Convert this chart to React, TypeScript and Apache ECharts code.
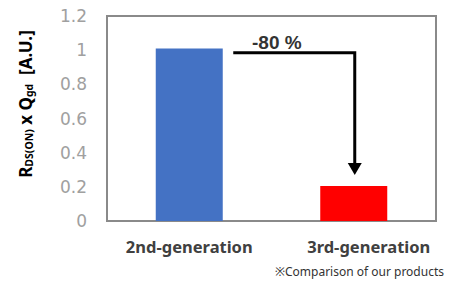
import React, { useEffect, useRef } from "react";
import * as echarts from "echarts";

const categories = ["2nd-generation", "3rd-generation"];
const values = [1.01, 0.205];
const barColors = ["#4472C4", "#FF0000"];
const yTicks = [0, 0.2, 0.4, 0.6, 0.8, 1, 1.2];
const reductionLabel = "-80 %";
const arrowStartValue = 0.985;
const arrowTipValue = 0.27;
const footnote = "※Comparison of our products";
const yName = "{b|R}{s|DS(ON)}{b| x Q}{s|gd}{b|  [A.U.]}";

export default function App() {
  const ref = useRef<HTMLDivElement>(null);
  useEffect(() => {
    if (!ref.current) return;
    const chart = echarts.init(ref.current, null, { renderer: "svg" });
    chart.setOption({
      animation: false,
      grid: {
        left: 107,
        top: 16,
        right: 19,
        bottom: 62,
        show: true,
        borderColor: "#8a8a8a",
        borderWidth: 2,
        backgroundColor: "#fff",
      },
      xAxis: {
        type: "category",
        data: categories,
        axisLine: { lineStyle: { color: "#8a8a8a", width: 2 } },
        axisTick: { show: false },
        axisLabel: {
          margin: 17,
          formatter: (v: string, i: number) => (i === 1 ? `{r|${v}}` : `{l|${v}}`),
          rich: {
            l: { fontFamily: "Noto Sans", fontWeight: "bold", fontSize: 16.5, color: "#404040" },
            r: {
              fontFamily: "Noto Sans",
              fontWeight: "bold",
              fontSize: 16.5,
              color: "#404040",
              padding: [0, 0, 0, 30],
            },
          },
        },
      },
      yAxis: {
        type: "value",
        min: 0,
        max: yTicks[yTicks.length - 1],
        interval: 0.2,
        axisLine: { show: false },
        axisTick: { show: false },
        splitLine: { show: false },
        axisLabel: {
          margin: 20,
          color: "#a0a0a0",
          fontFamily: "DejaVu Sans",
          fontSize: 17,
          formatter: (v: number) => String(Math.round(v * 10) / 10),
        },
      },
      series: [
        {
          type: "bar",
          barWidth: 67,
          data: values.map((v, i) => ({ value: v, itemStyle: { color: barColors[i] } })),
        },
      ],
    });

    const [x0c] = chart.convertToPixel({ gridIndex: 0 }, [0, 0]) as number[];
    const [x1c] = chart.convertToPixel({ gridIndex: 0 }, [1, 0]) as number[];
    const yLine = chart.convertToPixel({ yAxisIndex: 0 }, arrowStartValue) as number;
    const yTip = chart.convertToPixel({ yAxisIndex: 0 }, arrowTipValue) as number;
    const xs = x0c + 44;
    const xe = x1c + 1;
    chart.setOption({
      graphic: [
        {
          type: "text",
          x: 25,
          y: 104,
          rotation: Math.PI / 2,
          style: {
            text: yName,
            align: "center",
            verticalAlign: "middle",
            rich: {
              b: { fontFamily: "Noto Sans", fontWeight: "bold", fontSize: 17, color: "#333" },
              s: {
                fontFamily: "Noto Sans",
                fontWeight: "bold",
                fontSize: 10.5,
                color: "#333",
                verticalAlign: "bottom",
                padding: [7, 0, 0, 0],
              },
            },
          },
        },
        {
          type: "polyline",
          shape: { points: [[xs, yLine], [xe, yLine], [xe, yTip - 11]] },
          style: { stroke: "#000", lineWidth: 3, fill: null },
        },
        {
          type: "polygon",
          shape: { points: [[xe - 7, yTip - 12], [xe + 7, yTip - 12], [xe, yTip]] },
          style: { fill: "#000" },
        },
        {
          type: "text",
          x: 252,
          y: yLine - 1,
          style: {
            text: reductionLabel,
            fontFamily: "Liberation Sans",
            fontWeight: "bold",
            fontSize: 19,
            fill: "#333",
            verticalAlign: "bottom",
          },
        },
        {
          type: "text",
          right: 11,
          top: 265,
          style: {
            text: footnote,
            fontFamily: "Noto Sans, Noto Sans CJK JP",
            fontSize: 12,
            fill: "#333",
          },
        },
      ],
    });
    return () => chart.dispose();
  }, []);
  return <div ref={ref} style={{ width: 455, height: 283, position: "absolute", left: 0, top: 0 }} />;
}
